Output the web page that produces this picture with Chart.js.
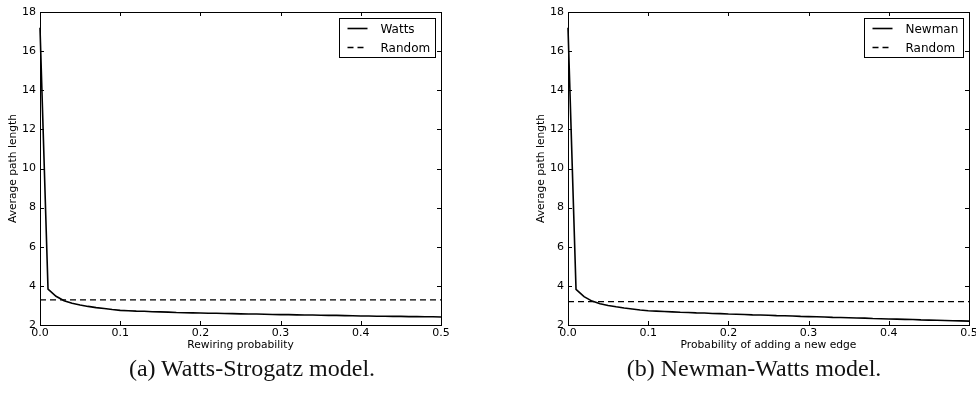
<!DOCTYPE html>
<html>
<head>
<meta charset="utf-8">
<script src="https://cdn.jsdelivr.net/npm/chart.js@4.4.0/dist/chart.umd.min.js"></script>
<style>
body{margin:0;background:#fff;width:976px;height:411px;position:relative;overflow:hidden}
canvas{position:absolute;top:0}
.cap{position:absolute;top:355px;font-family:"Liberation Serif",serif;font-size:24px;white-space:nowrap;transform:translateX(-50%);color:#111}
</style>
</head>
<body>
<canvas id="wattsChart" width="480" height="360" style="left:0"></canvas>
<canvas id="newmanChart" width="448" height="360" style="left:528px"></canvas>
<div class="cap" style="left:252px">(a) Watts-Strogatz model.</div>
<div class="cap" style="left:754px">(b) Newman-Watts model.</div>
<script>
// rewiring / adding probability, step 0.01
const probs = [0.00,0.01,0.02,0.03,0.04,0.05,0.06,0.07,0.08,0.09,
  0.10,0.11,0.12,0.13,0.14,0.15,0.16,0.17,0.18,0.19,
  0.20,0.21,0.22,0.23,0.24,0.25,0.26,0.27,0.28,0.29,
  0.30,0.31,0.32,0.33,0.34,0.35,0.36,0.37,0.38,0.39,
  0.40,0.41,0.42,0.43,0.44,0.45,0.46,0.47,0.48,0.49,0.50]

const wattsPath = [17.2,3.83,3.47,3.24,3.11,3.02,2.95,2.89,2.84,2.79,
  2.75,2.73,2.71,2.70,2.68,2.67,2.66,2.64,2.63,2.62,
  2.61,2.60,2.60,2.59,2.58,2.57,2.56,2.56,2.55,2.54,
  2.53,2.53,2.52,2.51,2.51,2.50,2.49,2.49,2.48,2.47,
  2.46,2.46,2.45,2.45,2.44,2.44,2.43,2.43,2.42,2.42,2.41]

const newmanPath = [17.2,3.82,3.45,3.22,3.09,3.00,2.93,2.87,2.82,2.77,
  2.73,2.71,2.69,2.67,2.65,2.64,2.62,2.61,2.59,2.58,
  2.56,2.55,2.54,2.52,2.51,2.50,2.48,2.47,2.46,2.44,
  2.43,2.42,2.41,2.39,2.38,2.37,2.36,2.35,2.33,2.32,
  2.31,2.30,2.29,2.28,2.26,2.25,2.24,2.23,2.22,2.21,2.20]

const randomX = [0, 0.5]
const randomWatts = [3.28, 3.28]
const randomNewman = [3.19, 3.19]

const xTicks = [0, 0.1, 0.2, 0.3, 0.4, 0.5]
const yTicks = [2, 4, 6, 8, 10, 12, 14, 16, 18]

const FONT = '"DejaVu Sans", sans-serif'

function toPoints(xs, ys){
  return xs.map((x, i) => ({x: x, y: ys[i]}))
}

// matplotlib style box + inward ticks on every side
const frameTicks = {
  id: 'frameTicks',
  afterDatasetsDraw(chart){
    const {ctx, chartArea: a, scales: {x, y}} = chart
    ctx.save()
    ctx.strokeStyle = '#000'
    ctx.lineWidth = 1
    ctx.beginPath()
    x.ticks.forEach((t, i) => {
      const px = Math.round(x.getPixelForTick(i)) + 0.5
      ctx.moveTo(px, a.bottom); ctx.lineTo(px, a.bottom - 4)
      ctx.moveTo(px, a.top); ctx.lineTo(px, a.top + 4)
    })
    y.ticks.forEach((t, i) => {
      const py = Math.round(y.getPixelForTick(i)) + 0.5
      ctx.moveTo(a.left, py); ctx.lineTo(a.left + 4, py)
      ctx.moveTo(a.right, py); ctx.lineTo(a.right - 4, py)
    })
    ctx.stroke()
    ctx.strokeRect(Math.round(a.left) + 0.5, Math.round(a.top) + 0.5,
      Math.round(a.right - a.left), Math.round(a.bottom - a.top))
    ctx.restore()
  }
}

// boxed legend in the upper right corner
const boxLegend = {
  id: 'boxLegend',
  afterDraw(chart){
    const {ctx, chartArea: a} = chart
    const sets = chart.data.datasets
    ctx.save()
    ctx.font = '12px ' + FONT
    const maxW = Math.max(...sets.map(d => ctx.measureText(d.label).width))
    const w = Math.round(41 + maxW + 5), h = 39
    const bx = Math.round(a.right - 6 - w) + 0.5, by = Math.round(a.top + 6) + 0.5
    ctx.fillStyle = '#fff'
    ctx.fillRect(bx, by, w, h)
    ctx.strokeStyle = '#000'
    ctx.lineWidth = 1
    ctx.strokeRect(bx, by, w, h)
    sets.forEach((d, i) => {
      const ly = by + 10 + i * 19
      ctx.beginPath()
      ctx.setLineDash(d.borderDash || [])
      ctx.lineWidth = d.borderWidth
      ctx.moveTo(bx + 8, ly); ctx.lineTo(bx + 28, ly)
      ctx.stroke()
      ctx.setLineDash([])
      ctx.fillStyle = '#000'
      ctx.textBaseline = 'middle'
      ctx.fillText(d.label, bx + 41, ly + 1)
    })
    ctx.restore()
  }
}

function makeChart(id, name, values, randomValues, xTitle, padRight){
  const data = {
    datasets: [{
      label: name,
      data: toPoints(probs, values),
      borderColor: '#000',
      borderWidth: 1.6,
      pointRadius: 0,
      tension: 0,
      clip: 2
    }, {
      label: 'Random',
      data: toPoints(randomX, randomValues),
      borderColor: '#000',
      borderWidth: 1.3,
      borderDash: [6, 4],
      pointRadius: 0
    }]
  }
  const config = {
    type: 'line',
    data: data,
    options: {
      responsive: false,
      animation: false,
      layout: {padding: {top: 12, right: padRight, left: 0, bottom: 0}},
      plugins: {legend: {display: false}, tooltip: {enabled: false}},
      scales: {
        x: {
          type: 'linear', min: 0, max: 0.5,
          afterBuildTicks: s => { s.ticks = xTicks.map(v => ({value: v})) },
          afterFit: s => { s.height = 35; s.paddingLeft = 0; s.paddingRight = 0 },
          grid: {display: false, drawTicks: false},
          border: {display: false},
          ticks: {color: '#000', padding: 2, maxRotation: 0, font: {family: FONT, size: 11},
            callback: v => v.toFixed(1)},
          title: {display: true, text: xTitle, color: '#000', font: {family: FONT, size: 10.7},
            padding: {top: 0, bottom: 8}}
        },
        y: {
          min: 2, max: 18,
          afterBuildTicks: s => { s.ticks = yTicks.map(v => ({value: v})) },
          afterFit: s => { s.width = 40 },
          grid: {display: false, drawTicks: false},
          border: {display: false},
          ticks: {color: '#000', padding: 4, font: {family: FONT, size: 11}},
          title: {display: true, text: 'Average path length', color: '#000', font: {family: FONT, size: 10.7},
            padding: {top: 7, bottom: 0}}
        }
      }
    },
    plugins: [frameTicks, boxLegend]
  }
  return new Chart(document.getElementById(id).getContext('2d'), config)
}

makeChart('wattsChart', 'Watts', wattsPath, randomWatts, 'Rewiring probability', 39)
makeChart('newmanChart', 'Newman', newmanPath, randomNewman, 'Probability of adding a new edge', 7)
</script>
</body>
</html>
